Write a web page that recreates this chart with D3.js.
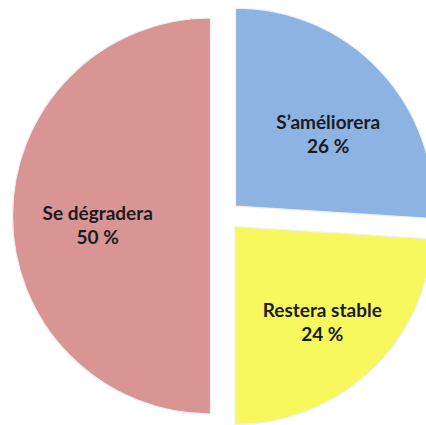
<!DOCTYPE html>
<html>
<head>
<meta charset="utf-8">
<script src="https://cdn.jsdelivr.net/npm/d3@7"></script>
<style>
  html, body { margin: 0; padding: 0; background: #ffffff; }
  svg { display: block; }
</style>
</head>
<body>
<svg id="chart" width="426" height="425"></svg>
<script>
// Data
const categories = ["S\u2019améliorera", "Restera stable", "Se dégradera"];
const values = [26, 24, 50];
const valueLabels = ["26 %", "24 %", "50 %"];
const colors = ["#8DB3E2", "#F7F75E", "#D99594"];

const width = 426, height = 425;
const cx = 225, cy = 216;
const radius = 198;
const explode = 14.5;

const svg = d3.select("#chart");

const pie = d3.pie().sort(null).value(d => d.value);
const arcs = pie(categories.map((c, i) => ({ cat: c, value: values[i], label: valueLabels[i], color: colors[i] })));

const arc = d3.arc().innerRadius(0).outerRadius(radius);

const g = svg.append("g").attr("transform", `translate(${cx},${cy})`);

const slice = g.selectAll("g.slice").data(arcs).join("g")
  .attr("class", "slice")
  .attr("transform", d => {
    const mid = (d.startAngle + d.endAngle) / 2;
    return `translate(${Math.sin(mid) * explode},${-Math.cos(mid) * explode})`;
  });

slice.append("path")
  .attr("d", arc)
  .attr("fill", d => d.data.color)
  .attr("stroke", "#eef0f4")
  .attr("stroke-width", 1.2);

const labelR = radius * 0.6;
const text = slice.append("text")
  .attr("text-anchor", "middle")
  .attr("font-family", "Lato, 'Open Sans', sans-serif")
  .attr("font-weight", "bold")
  .attr("font-size", "19px")
  .attr("fill", "#1b1b22")
  .attr("transform", d => {
    const mid = (d.startAngle + d.endAngle) / 2;
    return `translate(${Math.sin(mid) * labelR + 6},${-Math.cos(mid) * labelR + 7})`;
  });

text.append("tspan").attr("x", 0).attr("dy", "-0.15em").text(d => d.data.cat);
text.append("tspan").attr("x", 0).attr("dy", "1.25em").text(d => d.data.label);
</script>
</body>
</html>
